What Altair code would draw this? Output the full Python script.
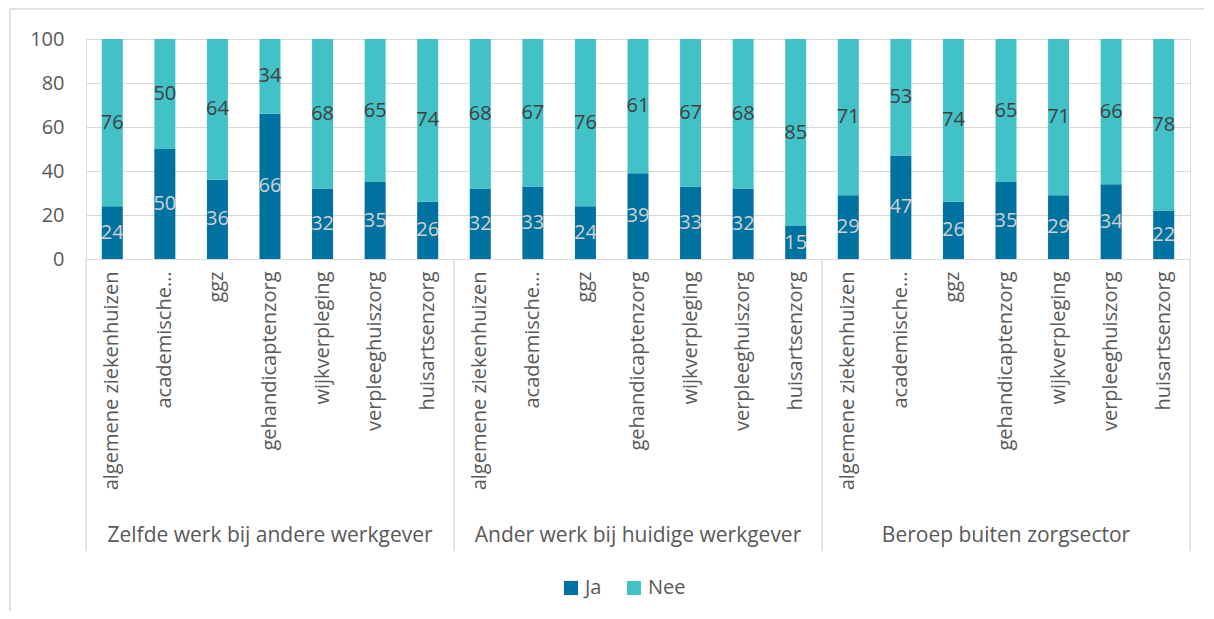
import altair as alt
import pandas as pd

groups = ["Zelfde werk bij andere werkgever", "Ander werk bij huidige werkgever", "Beroep buiten zorgsector"]
categories = ["algemene ziekenhuizen", "academische…", "ggz", "gehandicaptenzorg",
              "wijkverpleging", "verpleeghuiszorg", "huisartsenzorg"]
ja = [[24, 50, 36, 66, 32, 35, 26],
      [32, 33, 24, 39, 33, 32, 15],
      [29, 47, 26, 35, 29, 34, 22]]
nee = [[76, 50, 64, 34, 68, 65, 74],
       [68, 67, 76, 61, 67, 68, 85],
       [71, 53, 74, 65, 71, 66, 78]]

C_JA = "#00729F"
C_NEE = "#42C1C7"
FONT = "Open Sans"
W, H = 1104, 220

rows = []
labels = []
for gi, g in enumerate(groups):
    for ci, c in enumerate(categories):
        idx = gi * len(categories) + ci
        labels.append(c)
        rows.append({"idx": idx, "groep": g, "cat": c, "antwoord": "Ja", "waarde": ja[gi][ci],
                     "order": 0, "mid": ja[gi][ci] / 2})
        rows.append({"idx": idx, "groep": g, "cat": c, "antwoord": "Nee", "waarde": nee[gi][ci],
                     "order": 1, "mid": ja[gi][ci] + nee[gi][ci] / 2})
df = pd.DataFrame(rows)

label_expr = "[" + ",".join("'" + l + "'" for l in labels) + "][datum.value]"

xscale = alt.Scale(domain=list(range(len(labels))), paddingInner=0, paddingOuter=0)
xenc = alt.X("idx:O", scale=xscale,
             axis=alt.Axis(title=None, labelExpr=label_expr, labelAngle=-90, labelAlign="right",
                           labelBaseline="middle", labelFont=FONT, labelFontSize=20,
                           labelColor="#595959", labelPadding=12, ticks=False,
                           domainColor="#d9d9d9", labelLimit=400, labelOverlap=False))

bars = alt.Chart(df).mark_bar(size=21).encode(
    x=xenc,
    y=alt.Y("waarde:Q", stack="zero", scale=alt.Scale(domain=[0, 100]),
            axis=alt.Axis(title=None, values=[0, 20, 40, 60, 80, 100], labelFont=FONT,
                          labelFontSize=20, labelColor="#595959", labelPadding=22,
                          domain=False, ticks=False, gridColor="#d9d9d9")),
    color=alt.Color("antwoord:N", scale=alt.Scale(domain=["Ja", "Nee"], range=[C_JA, C_NEE]),
                    legend=alt.Legend(title=None, orient="none", direction="horizontal",
                                      legendX=475, legendY=539, symbolType="square",
                                      symbolSize=200, symbolStrokeWidth=0, labelFont=FONT,
                                      labelFontSize=20, labelColor="#595959",
                                      columnPadding=22, labelOffset=4)),
    order=alt.Order("order:Q"),
)

txt = alt.Chart(df).mark_text(font=FONT, fontSize=20, baseline="middle").encode(
    x=alt.X("idx:O", scale=xscale),
    y=alt.Y("mid:Q"),
    text=alt.Text("waarde:Q"),
    color=alt.condition(alt.datum.antwoord == "Ja", alt.value("#d0d0d0"), alt.value("#404040")),
)

gdf = pd.DataFrame({"idx": [3, 10, 17], "groep": groups})
glabels = alt.Chart(gdf).mark_text(font=FONT, fontSize=21, color="#595959", baseline="middle").encode(
    x=alt.X("idx:O", scale=xscale), y=alt.value(497), text="groep:N")

sep_df = pd.DataFrame({"idx": [0, 7, 14]})
seps = alt.Chart(sep_df).mark_rule(color="#d9d9d9", strokeWidth=1.3).encode(
    x=alt.X("idx:O", scale=xscale, bandPosition=0), y=alt.value(H), y2=alt.value(H + 292))
end_df = pd.DataFrame({"idx": [len(labels) - 1]})
seps_end = alt.Chart(end_df).mark_rule(color="#d9d9d9", strokeWidth=1.3).encode(
    x=alt.X("idx:O", scale=xscale, bandPosition=1), y=alt.value(H), y2=alt.value(H + 292))

border_left = alt.Chart(end_df).mark_rule(color="#d9d9d9", strokeWidth=1.5).encode(
    x=alt.value(-76), y=alt.value(-30), y2=alt.value(572))
border_top = alt.Chart(end_df).mark_rule(color="#d9d9d9", strokeWidth=1.5).encode(
    x=alt.value(-76), x2=alt.value(W + 14), y=alt.value(-30))

chart = alt.layer(bars, txt, glabels, seps, seps_end, border_left, border_top).properties(
    width=W, height=H, padding={"left": 1, "top": 0, "right": 0, "bottom": 0}
).configure_view(stroke=None).configure(background="white")

chart.save("out.html", embed_options={"renderer": "svg", "actions": False})
